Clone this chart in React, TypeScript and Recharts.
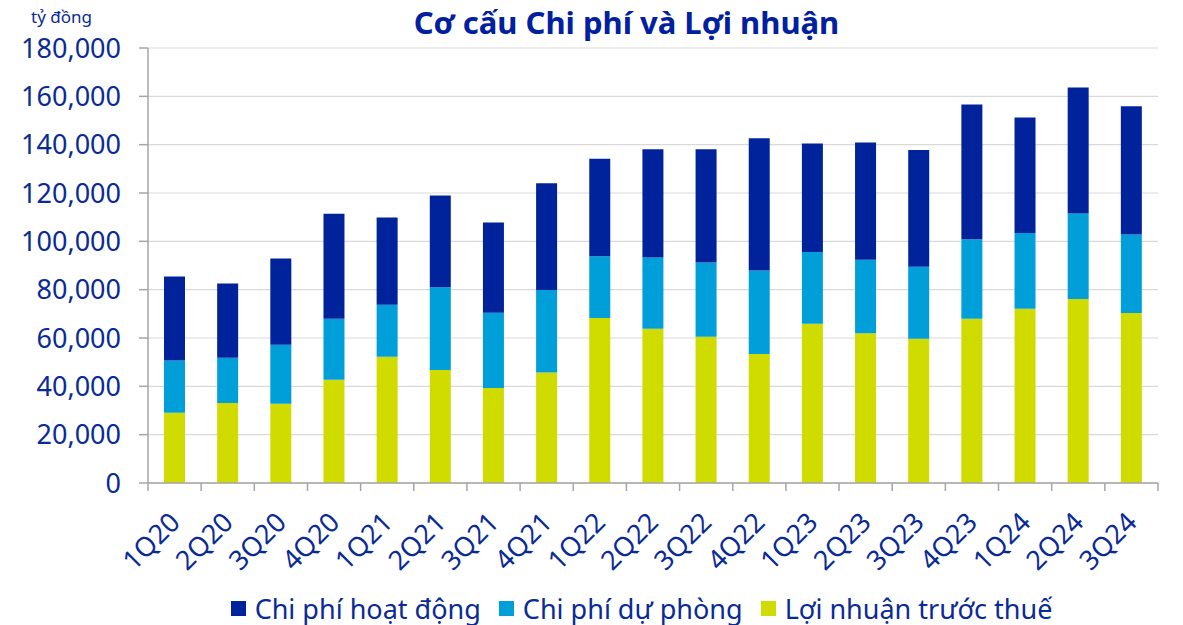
import React from 'react'
import { BarChart, Bar, XAxis, YAxis, CartesianGrid } from 'recharts'

const NAVY = '#00239C'
const CYAN = '#009FDA'
const LIME = '#D0DB00'
const TEXT = '#0A2A96'
const FONT = '"Noto Sans", sans-serif'

const quarters = [
  '1Q20', '2Q20', '3Q20', '4Q20', '1Q21', '2Q21', '3Q21', '4Q21', '1Q22', '2Q22',
  '3Q22', '4Q22', '1Q23', '2Q23', '3Q23', '4Q23', '1Q24', '2Q24', '3Q24',
]

// tỷ đồng
const loiNhuan = [
  29100, 33100, 32800, 42700, 52200, 46800, 39300, 45700, 68300, 63800,
  60500, 53400, 65900, 62000, 59700, 68000, 72100, 76100, 70300,
]
const chiPhiDuPhong = [
  21600, 18700, 24400, 25300, 21600, 34200, 31200, 34200, 25500, 29500,
  30700, 34500, 29700, 30400, 29800, 32900, 31300, 35400, 32500,
]
const chiPhiHoatDong = [
  34800, 30800, 35700, 43400, 36100, 38000, 37300, 44100, 40400, 44800,
  46900, 54800, 44900, 48500, 48300, 55700, 47800, 52200, 53100,
]

const yTicks = [0, 20000, 40000, 60000, 80000, 100000, 120000, 140000, 160000, 180000]

const legendItems = [
  { name: 'Chi phí hoạt động', color: NAVY },
  { name: 'Chi phí dự phòng', color: CYAN },
  { name: 'Lợi nhuận trước thuế', color: LIME },
]

const data = quarters.map((q, i) => ({
  quarter: q,
  loiNhuan: loiNhuan[i],
  duPhong: chiPhiDuPhong[i],
  hoatDong: chiPhiHoatDong[i],
}))

const STEP = 1010 / quarters.length

function QuarterTick(props: any) {
  const { x, y, payload, index } = props
  return (
    <g>
      <line x1={x - STEP / 2} x2={x - STEP / 2} y1={y - 8} y2={y} stroke="#A6A6A6" strokeWidth={1.5} />
      {index === quarters.length - 1 && (
        <line x1={x + STEP / 2} x2={x + STEP / 2} y1={y - 8} y2={y} stroke="#A6A6A6" strokeWidth={1.5} />
      )}
      <g transform={`translate(${x + 7},${y + 33}) rotate(-45)`}>
        <text textAnchor="end" fill={TEXT} fontSize={27} fontFamily={FONT}>
          {payload.value}
        </text>
      </g>
    </g>
  )
}

function ChartLegend() {
  return (
    <div style={{ display: 'flex', justifyContent: 'center', gap: 18, height: 40, alignItems: 'center', fontFamily: FONT, fontSize: 27, color: TEXT, paddingLeft: 100, boxSizing: 'border-box' }}>
      {legendItems.map((it) => (
        <div key={it.name} style={{ display: 'flex', alignItems: 'center', gap: 9 }}>
          <span style={{ width: 15, height: 15, background: it.color, display: 'inline-block' }} />
          <span>{it.name}</span>
        </div>
      ))}
    </div>
  )
}

export default function App() {
  return (
    <div style={{ position: 'absolute', left: 0, top: 0, width: 1183, height: 625, background: '#fff', fontFamily: FONT }}>
      <div style={{ position: 'absolute', left: 0, width: 1183, boxSizing: 'border-box', top: 1, textAlign: 'center', fontSize: 31, fontWeight: 700, color: '#00209F', paddingLeft: 70 }}>
        Cơ cấu Chi phí và Lợi nhuận
      </div>
      <div style={{ position: 'absolute', left: 31, top: 5, fontSize: 17, color: TEXT }}>tỷ đồng</div>
      <BarChart
        width={1183}
        height={625}
        data={data}
        margin={{ top: 48, right: 25, left: 0, bottom: 40 }}
        barSize={21}
      >
        <CartesianGrid vertical={false} stroke="#D9D9D9" strokeWidth={1.2} />
        <XAxis
          dataKey="quarter"
          height={102}
          interval={0}
          tickLine={false}
          axisLine={{ stroke: '#A6A6A6', strokeWidth: 1.5 }}
          tick={<QuarterTick />}
        />
        <YAxis
          width={148}
          domain={[0, 180000]}
          ticks={yTicks}
          interval={0}
          tickSize={9}
          tickMargin={18}
          tickLine={{ stroke: '#A6A6A6', strokeWidth: 1.5 }}
          axisLine={{ stroke: '#A6A6A6', strokeWidth: 1.5 }}
          tickFormatter={(v: number) => v.toLocaleString('en-US')}
          tick={{ fill: TEXT, fontSize: 27, fontFamily: FONT }}
        />
        <Bar dataKey="loiNhuan" name="Lợi nhuận trước thuế" stackId="a" fill={LIME} isAnimationActive={false} />
        <Bar dataKey="duPhong" name="Chi phí dự phòng" stackId="a" fill={CYAN} isAnimationActive={false} />
        <Bar dataKey="hoatDong" name="Chi phí hoạt động" stackId="a" fill={NAVY} isAnimationActive={false} />
      </BarChart>
      <div style={{ position: 'absolute', left: 0, width: 1183, top: 588 }}>
        <ChartLegend />
      </div>
    </div>
  )
}
